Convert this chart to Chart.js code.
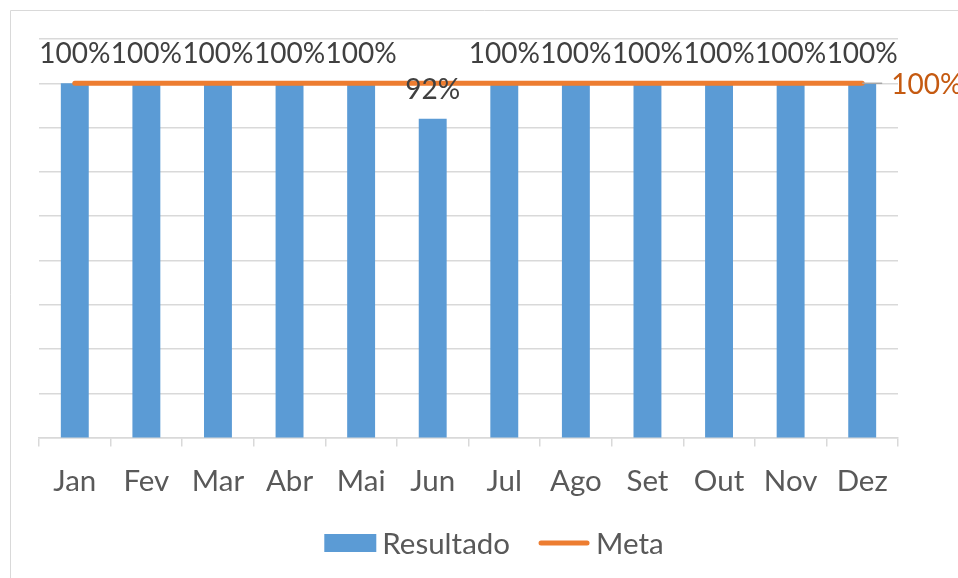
<!DOCTYPE html>
<html>
<head>
<meta charset="utf-8">
<script src="https://cdn.jsdelivr.net/npm/chart.js@4.4.1/dist/chart.umd.min.js"></script>
<style>
  html, body { margin: 0; padding: 0; background: #fff; }
  #wrap { width: 958px; height: 578px; position: relative; }
</style>
</head>
<body>
<div id="wrap"><canvas id="chart" width="958" height="578"></canvas></div>
<script>
// data
const months = ['Jan', 'Fev', 'Mar', 'Abr', 'Mai', 'Jun', 'Jul', 'Ago', 'Set', 'Out', 'Nov', 'Dez']
const resultado = [1, 1, 1, 1, 1, 0.92, 1, 1, 1, 1, 1, 1]
const meta = [1, 1, 1, 1, 1, 1, 1, 1, 1, 1, 1, 1]
const yMin = 0.2
const yMax = 1.1
const yStep = 0.1

const FONT = 'Lato'
const pct = v => Math.round(v * 100) + '%'

// light gray frame around the chart, cut by the picture edge
const framePlugin = {
  id: 'frame',
  beforeDraw(chart) {
    const ctx = chart.ctx
    ctx.save()
    ctx.strokeStyle = '#d9d9d9'
    ctx.lineWidth = 1
    ctx.beginPath()
    ctx.moveTo(10.5, chart.height + 5)
    ctx.lineTo(10.5, 10.5)
    ctx.lineTo(chart.width + 5, 10.5)
    ctx.stroke()
    ctx.restore()
  }
}

// value labels above the bars and the label at the end of the Meta line
const labelsPlugin = {
  id: 'valueLabels',
  afterDatasetsDraw(chart) {
    const ctx = chart.ctx
    ctx.save()
    ctx.font = '28px ' + FONT
    ctx.textAlign = 'center'
    ctx.textBaseline = 'middle'
    ctx.fillStyle = '#404040'
    chart.getDatasetMeta(0).data.forEach((bar, i) => {
      ctx.fillText(pct(resultado[i]), bar.x, bar.y - 29)
    })
    const pts = chart.getDatasetMeta(1).data
    const last = pts[pts.length - 1]
    ctx.strokeStyle = '#a6a6a6'
    ctx.lineWidth = 1.5
    ctx.beginPath()
    ctx.moveTo(last.x, last.y)
    ctx.lineTo(last.x + 20, last.y)
    ctx.stroke()
    ctx.textAlign = 'left'
    ctx.fillStyle = '#c55a11'
    ctx.fillText(pct(meta[meta.length - 1]), last.x + 29, last.y + 2)
    ctx.restore()
  }
}

// legend drawn like the spreadsheet one: box for the bars, thick line for Meta
const legendPlugin = {
  id: 'customLegend',
  afterDraw(chart) {
    const ctx = chart.ctx
    ctx.save()
    ctx.font = '29.5px ' + FONT
    ctx.textBaseline = 'middle'
    const items = chart.data.datasets.map(ds => ({ ds, w: ctx.measureText(ds.label).width }))
    const sym = 52, gapSym = 6, gapItem = 28
    const total = items.reduce((s, it) => s + sym + gapSym + it.w, 0) + gapItem * (items.length - 1)
    let x = chart.width / 2 + 15 - total / 2
    const y = 543
    items.forEach(it => {
      if (it.ds.type === 'line') {
        ctx.strokeStyle = it.ds.borderColor
        ctx.lineWidth = 5
        ctx.lineCap = 'round'
        ctx.beginPath()
        ctx.moveTo(x + 3, y)
        ctx.lineTo(x + sym - 3, y)
        ctx.stroke()
      } else {
        ctx.fillStyle = it.ds.backgroundColor
        ctx.fillRect(x, y - 9, sym, 18)
      }
      x += sym + gapSym
      ctx.fillStyle = '#595959'
      ctx.fillText(it.ds.label, x, y + 1)
      x += it.w + gapItem
    })
    ctx.restore()
  }
}

new Chart(document.getElementById('chart'), {
  data: {
    labels: months,
    datasets: [{
      type: 'bar',
      label: 'Resultado',
      data: resultado,
      backgroundColor: '#5b9bd5',
      categoryPercentage: 1,
      barPercentage: 0.39,
      order: 2
    }, {
      type: 'line',
      label: 'Meta',
      data: meta,
      borderColor: '#ed7d31',
      backgroundColor: '#ed7d31',
      borderWidth: 5,
      borderCapStyle: 'round',
      pointRadius: 0,
      order: 1
    }]
  },
  options: {
    responsive: false,
    animation: false,
    layout: { padding: { left: 39, right: 60, top: 39, bottom: 62 } },
    plugins: {
      legend: { display: false },
      tooltip: { enabled: false }
    },
    scales: {
      x: {
        offset: true,
        grid: {
          offset: true,
          drawOnChartArea: false,
          drawTicks: true,
          tickLength: 9,
          color: '#d9d9d9',
          lineWidth: 1.5
        },
        border: { color: '#d9d9d9', width: 1.5 },
        ticks: {
          color: '#595959',
          font: { family: FONT, size: 29.5 },
          padding: 17
        }
      },
      y: {
        min: yMin,
        max: yMax,
        ticks: { display: false, stepSize: yStep },
        grid: { color: '#d9d9d9', lineWidth: 1.5, drawTicks: false },
        border: { display: false }
      }
    }
  },
  plugins: [framePlugin, labelsPlugin, legendPlugin]
})
</script>
</body>
</html>
